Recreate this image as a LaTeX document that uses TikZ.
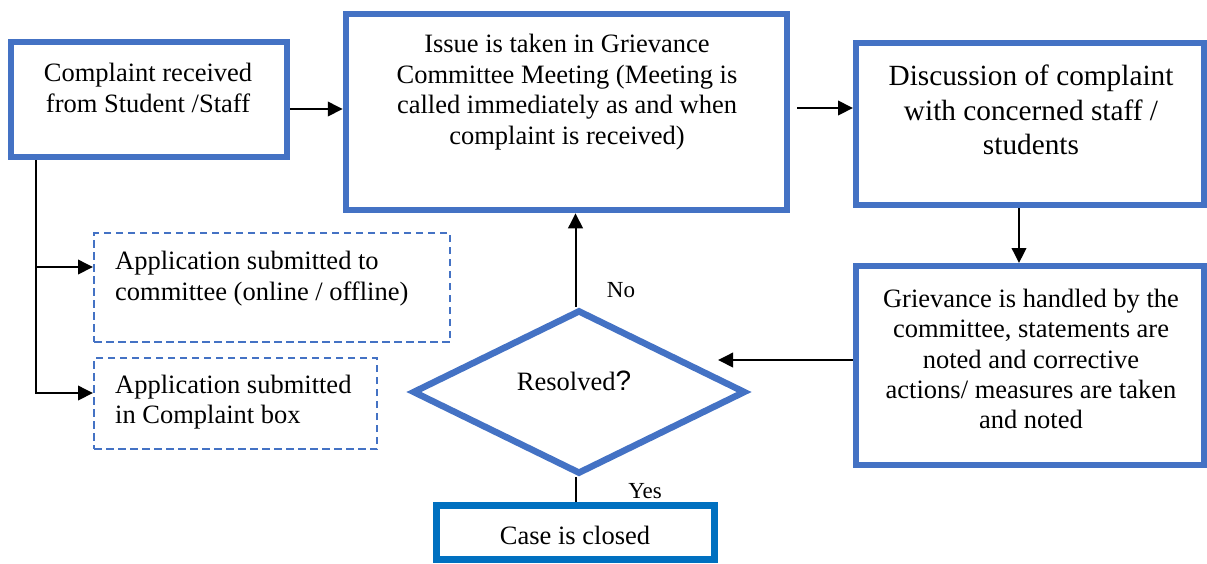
\documentclass[tikz,border=0pt]{standalone}
\usepackage{fontspec}
\setmainfont{Liberation Serif}
\newfontfamily\qfont{Liberation Sans}
\usetikzlibrary{arrows.meta,shapes.geometric}
\definecolor{boxblue}{HTML}{4472C4}
\definecolor{caseblue}{HTML}{0070C0}
\begin{document}
\begin{tikzpicture}[x=1pt,y=-1pt,
  box/.style={draw=boxblue,line width=6pt,rectangle,inner sep=0pt,fill=white},
  dbox/.style={draw=boxblue,line width=2pt,dash pattern=on 7.5pt off 4.5pt,rectangle,inner sep=0pt},
  txt/.style={font=\fontsize{26.5}{30.5}\selectfont,align=center,inner sep=0pt},
  arr/.style={line width=2pt,-{Triangle[length=15pt,width=14.5pt]}},
  ln/.style={line width=2pt}]
\useasboundingbox (0,0) rectangle (1207,563);
% boxes
\node[box,minimum width=276pt,minimum height=115pt] (b1) at (149,99.5) {};
\node[box,line width=6.5pt,minimum width=441pt,minimum height=196pt] (b2) at (566.5,112) {};
\node[box,minimum width=348pt,minimum height=162pt] (b3) at (1030,124) {};
\node[box,minimum width=348pt,minimum height=199pt] (b4) at (1030,365.5) {};
\node[draw=boxblue,line width=6.5pt,diamond,inner sep=0pt,minimum width=333pt,minimum height=164pt] (dia) at (579,392) {};
\node[box,draw=caseblue,line width=7pt,minimum width=278pt,minimum height=54pt] (case) at (575.5,532.5) {};
\node[dbox,minimum width=356pt,minimum height=109pt] (da) at (272,287.5) {};
\node[dbox,minimum width=283pt,minimum height=91pt] (db) at (235.5,403.5) {};
% texts
\node[txt] (t1) at (148,88) {Complaint received\\from Student /Staff};
\node[txt] (t2) at (567,92) {Issue is taken in Grievance\\Committee Meeting (Meeting is\\called immediately as and when\\complaint is received)};
\node[txt,font=\fontsize{29.3}{34.7}\selectfont] (t3) at (1031,110) {Discussion of complaint\\with concerned staff /\\students};
\node[txt,font=\fontsize{26.5}{30.25}\selectfont] (t4) at (1031,359) {Grievance is handled by the\\committee, statements are\\noted and corrective\\actions/ measures are taken\\and noted};
\node[txt,align=left,anchor=west] (ta) at (115,278.5) {Application submitted to\\committee (online / offline)};
\node[txt,align=left,anchor=west] (tb) at (115,402) {Application submitted\\in Complaint box};
\node[txt] (tr) at (574,381) {Resolved{\qfont\fontsize{28}{30}\selectfont ?}};
\node[txt] (tc) at (575,535) {Case is closed};
\node[txt,font=\fontsize{23}{26}\selectfont] (tno) at (621,290.5) {No};
\node[txt,font=\fontsize{23}{26}\selectfont] (tyes) at (645,491.5) {Yes};
% connector helper coordinates
\coordinate (r1) at (0,109);
\coordinate (r2) at (0,108);
\coordinate (c3) at (1019,0);
\coordinate (r4) at (0,360);
\coordinate (p4) at (718,360);
\coordinate (j1) at (36,267);
\coordinate (j2) at (36,393);
% connectors
\draw[arr] (b1.east |- r1) -- (b2.west |- r1);
\draw[arr,shorten <=7pt] (b2.east |- r2) -- (b3.west |- r2);
\draw[arr] (b3.south -| c3) -- (b4.north -| c3);
\draw[arr] (b4.west |- r4) -- (p4);
\draw[arr] (case.north |- dia.north) -- (case.north |- b2.south);
\draw[ln] (case.north |- dia.south) -- (case.north);
\draw[arr] (b1.south -| j2) |- (db.west |- j2);
\draw[arr] (j1) -- (da.west |- j1);
\end{tikzpicture}
\end{document}
